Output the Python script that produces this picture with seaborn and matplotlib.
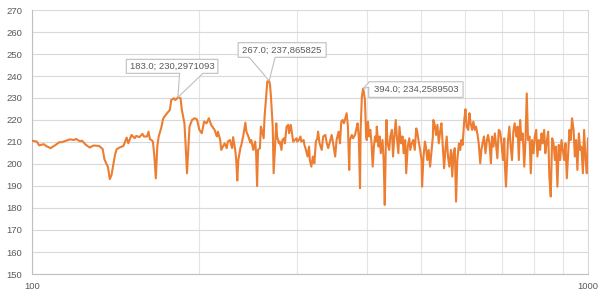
import matplotlib
matplotlib.use("Agg")
import matplotlib.pyplot as plt
from matplotlib.patches import Polygon
from matplotlib.transforms import ScaledTranslation
import seaborn as sns
import pandas as pd

# ---------------- data ----------------
freq_hz = [
    100, 102, 103, 105, 106, 108, 110, 112, 113, 116, 117, 119, 120, 122, 123, 125, 127, 129, 132, 134,
    135, 137, 138, 139, 141, 142, 144, 146,
    148, 149, 151, 153, 154, 156, 158, 159, 161, 162, 163, 164, 165, 166, 167, 168, 169, 171, 172, 173,
    175, 177, 178, 180, 181, 182, 183, 185, 186, 188, 189, 190, 191, 192, 194, 196, 198, 200, 202, 204,
    206, 208, 210, 212, 213, 215, 216, 218, 219,
    222, 224, 225, 227, 229, 230, 232, 233, 234, 235, 237, 238, 240, 242, 243, 245, 247, 248, 250, 252,
    253, 254, 255, 257, 258, 259, 261, 262, 264, 265, 267, 268, 269, 271, 272, 274, 275, 276, 278, 279,
    281, 282, 284, 285, 287, 289, 290, 292, 294, 295, 297, 299, 300, 302, 304, 305, 308, 309, 311, 313,
    315, 316, 318, 320, 322, 324, 326, 327, 329,
    332, 334, 337, 339, 341, 344, 346, 348, 351, 353, 356, 358, 360, 362, 364, 366, 368, 370, 372, 373,
    376, 378, 381, 384, 385, 387, 389, 390, 392, 394, 395, 397, 399, 400, 402, 404, 406, 408, 410, 412,
    414, 416, 417, 420, 422, 424, 427, 429, 431, 433, 434, 436, 439, 441, 444, 446, 448, 451, 453, 456,
    458, 461, 464, 466, 469, 471, 474, 477, 479, 482, 485, 488,
    491, 493, 496, 499, 502, 503, 506, 509, 511, 514, 517, 520, 523, 526, 527, 530, 533, 536, 539, 542,
    545, 548, 551, 554, 557, 560, 563, 567, 570, 573, 576, 579, 582, 586, 589, 592, 595, 599, 602, 605,
    609, 612, 615, 619, 622, 626, 629, 633, 636, 640, 643, 647, 650, 654, 658, 661, 665, 669, 672, 676,
    680, 683, 687, 691, 695, 699, 703, 707, 709,
    712, 718, 722, 726, 730, 734, 738, 743, 747, 751, 755, 759, 763, 768, 772, 776, 780, 785, 789, 793,
    798, 802, 807, 811, 816, 820, 825, 829, 834, 838, 843, 848, 852, 857, 862, 867, 872, 876, 881, 886,
    891, 896, 901, 906, 911, 916, 921, 926, 931, 936, 942, 947, 952, 957, 963, 968, 973, 979, 984, 990,
    995, 1000,
]

level = [
    210.6, 210.2, 208.5, 209.0, 208.2, 207.2, 208.5, 209.9, 209.9, 210.9, 211.2, 210.9, 211.4, 210.3, 210.6,
    208.7, 207.5, 208.4, 208.2, 206.8, 202.1, 198.5, 193.1, 195.0, 204.1, 206.7, 207.6, 208.2,
    212.0, 209.4, 213.2, 211.7, 212.8, 212.2, 213.7, 212.5, 212.5, 214.7, 211.2, 210.9, 210.2, 203.4, 193.5,
    207.9, 212.5, 217.0, 220.3, 221.5, 223.1, 224.6, 229.1, 229.9, 229.1, 229.6, 230.2971093, 229.9, 224.6,
    218.5, 207.9, 195.8, 206.4, 217.0, 220.0, 220.8, 220.3, 215.5, 214.0, 219.3, 218.5, 220.8, 217.8, 216.2,
    215.5, 212.5, 214.7, 210.9, 206.4,
    209.4, 207.2, 210.2, 210.9, 207.2, 212.2, 206.4, 201.8, 192.5, 201.8, 207.2, 208.7, 213.2, 218.8, 214.7,
    212.5, 209.7, 210.9, 206.4, 210.2, 204.9, 190.0, 206.4, 207.2, 217.0, 215.5, 211.7, 221.5, 232.1, 237.5,
    237.865825, 235.9, 230.6, 217.0, 195.8, 210.9, 218.5, 212.5, 209.4, 210.2, 206.4, 210.9, 211.7, 209.4,
    217.0, 217.8, 214.0, 217.8, 212.5, 210.2, 210.9, 211.7, 210.2, 210.9, 212.5, 210.2, 210.9, 208.7, 206.4,
    203.4, 207.9, 201.8, 198.8, 203.4, 200.3, 210.2, 211.7, 214.7, 209.4,
    206.4, 212.5, 213.2, 209.4, 207.2, 210.9, 213.2, 209.4, 203.4, 210.9, 214.7, 209.4, 219.3, 220.0, 218.5,
    220.8, 223.1, 217.0, 197.3, 210.9, 213.2, 211.7, 213.2, 217.0, 218.5, 212.5, 189.0, 215.5, 230.6,
    234.2589503, 233.0, 229.1, 212.5, 210.9, 219.3, 212.5, 215.5, 209.4, 198.8, 207.9, 212.5, 210.2, 217.0,
    207.9, 212.5, 204.9, 210.9, 201.8, 181.4, 210.9, 220.0, 209.4, 206.4, 212.5, 215.5, 203.4, 210.9, 220.0,
    212.5, 204.9, 217.0, 209.4, 212.5, 204.9, 210.9, 195.8, 207.9, 211.7, 206.4, 209.4, 210.9, 206.4,
    216.2, 214.7, 210.2, 206.4, 201.8, 189.7, 203.4, 210.2, 207.9, 201.8, 206.4, 198.8, 205.6, 212.5, 220.0,
    217.8, 213.2, 217.8, 209.4, 214.7, 218.5, 207.9, 198.1, 206.4, 212.5, 203.4, 198.8, 206.4, 194.3, 204.9,
    207.2, 182.9, 201.8, 209.4, 206.4, 210.9, 208.7, 220.0, 224.9, 217.0, 215.5, 223.1, 218.5, 215.5, 219.3,
    215.5, 217.0, 213.2, 209.4, 200.3, 206.4, 210.2, 212.5, 204.9, 210.9, 213.2, 209.4, 200.3, 212.5, 207.9,
    213.9, 209.4, 202.6, 215.5, 214.7, 209.4, 201.8, 211.7, 198.8,
    189.7, 210.9, 217.0, 207.9, 201.8, 214.7, 218.5, 212.5, 217.0, 201.8, 220.0, 210.9, 213.9, 198.8, 210.9,
    232.1, 210.9, 212.5, 195.8, 210.9, 204.9, 212.5, 215.5, 203.4, 210.9, 206.4, 213.9, 209.4, 215.5, 204.9,
    210.2, 214.7, 194.3, 185.2, 211.7, 209.4, 201.8, 207.9, 189.7, 208.7, 201.8, 210.9, 206.4, 201.8, 209.4,
    193.5, 204.9, 215.5, 210.9, 220.8, 215.5, 203.4, 210.9, 197.3, 213.9, 206.4, 207.9, 195.8, 215.5, 201.8,
    195.8, 211.7,
]

y_ticks = [150, 160, 170, 180, 190, 200, 210, 220, 230, 240, 250, 260, 270]
x_major_ticks = [100, 1000]
x_major_labels = ["100", "1000"]
x_minor_ticks = [200, 300, 400, 500, 600, 700, 800, 900]
callout_freqs = [183, 267, 394]

# ---------------- style ----------------
sns.set_style("white")
plt.rcParams["font.family"] = ["Liberation Sans", "DejaVu Sans"]

W, H, DPI = 600, 298, 100
fig = plt.figure(figsize=(W / DPI, H / DPI), dpi=DPI)
ax = fig.add_axes([32 / W, 24 / H, 556 / W, 264 / H])

df = pd.DataFrame({"freq": freq_hz, "level": level})
sns.lineplot(data=df, x="freq", y="level", ax=ax, color="#ED7D31",
             linewidth=1.5, estimator=None, sort=False, zorder=3)

ax.set_xscale("log")
ax.set_xlim(100, 1000)
ax.set_ylim(150, 270)
ax.set_yticks(y_ticks)
ax.set_xticks(x_major_ticks, labels=x_major_labels)
ax.set_xticks(x_minor_ticks, minor=True, labels=[""] * len(x_minor_ticks))
ax.set_xlabel("")
ax.set_ylabel("")

ax.grid(True, which="major", axis="y", color="#d9d9d9", linewidth=0.8)
ax.grid(True, which="both", axis="x", color="#e4e4e4", linewidth=0.8)
ax.set_axisbelow(True)

ax.tick_params(axis="both", which="both", length=0, labelsize=6.8, labelcolor="#595959")
ax.tick_params(axis="y", pad=7)
ax.tick_params(axis="x", pad=6)

for side in ("left", "bottom"):
    ax.spines[side].set_color("#bfbfbf")
    ax.spines[side].set_linewidth(0.8)
ax.spines["right"].set_color("#d9d9d9")
ax.spines["right"].set_linewidth(0.8)
ax.spines["top"].set_visible(False)

# ---------------- callouts (Excel-style wedge boxes) ----------------
# geometry in pixels relative to the data point (x right, y up)
callout_shapes = [
    dict(L=-51.6, R=40.0, T=38.0, B=24.0, wedge=("bottom", 1.7, 25.0)),
    dict(L=-31.0, R=57.0, T=38.0, B=23.4, wedge=("bottom", -20.0, 6.0)),
    dict(L=5.6, R=100.0, T=6.9, B=-8.7, wedge=("left", 1.6, 5.9)),
]

lookup = dict(zip(freq_hz, level))
for f, shp in zip(callout_freqs, callout_shapes):
    v = lookup[f]
    label = f"{f:.1f}; " + str(v).replace(".", ",")
    L, R, T, B = shp["L"], shp["R"], shp["T"], shp["B"]
    side, a, b = shp["wedge"]
    if side == "bottom":
        verts = [(L, T), (R, T), (R, B), (b, B), (0, 0), (a, B), (L, B)]
    else:
        verts = [(L, T), (R, T), (R, B), (L, B), (L, a), (0, 0), (L, b)]
    verts = [(x / DPI, y / DPI) for x, y in verts]
    trans = fig.dpi_scale_trans + ScaledTranslation(f, v, ax.transData)
    poly = Polygon(verts, closed=True, transform=trans, facecolor="white",
                   edgecolor="#bfbfbf", linewidth=0.8, zorder=5, clip_on=False)
    ax.add_patch(poly)
    ax.text((L + R) / 2 / DPI, (T + B) / 2 / DPI, label, transform=trans,
            ha="center", va="center", fontsize=6.8, color="#595959", zorder=6)

fig.savefig("out.png", dpi=DPI)
